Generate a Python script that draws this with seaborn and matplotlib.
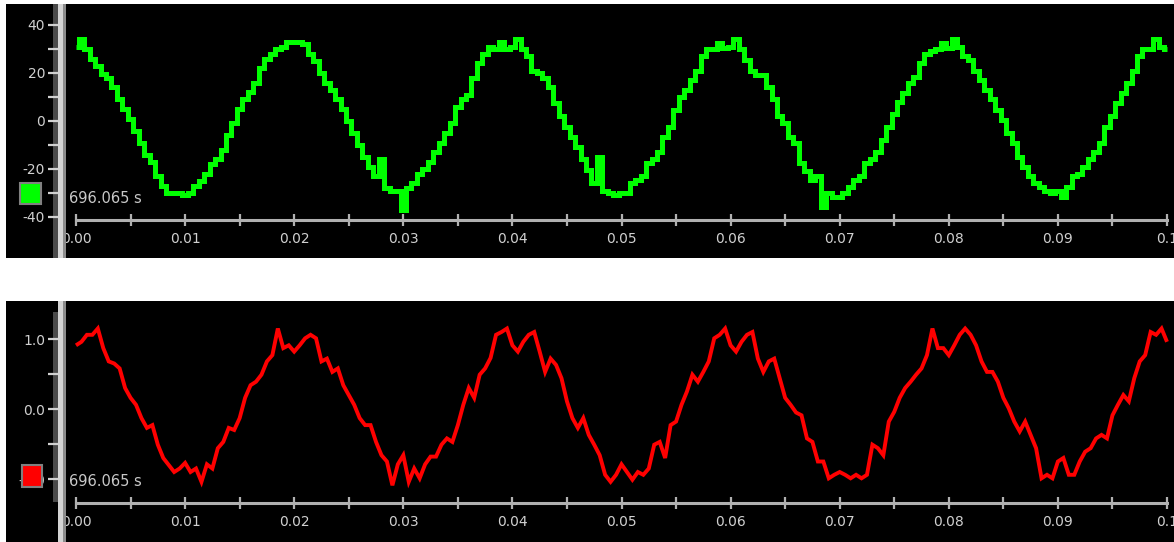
import numpy as np
import pandas as pd
import matplotlib
matplotlib.use("Agg")
import matplotlib.pyplot as plt
from matplotlib.patches import Rectangle
from matplotlib.ticker import MultipleLocator, FixedLocator
import seaborn as sns

# ---------------------------------------------------------------- data
SAMPLE_PERIOD = 0.0005          # seconds between samples
TIMESTAMP = "696.065 s"

voltage = [
    31, 34, 30, 26, 23, 19.5, 18, 14, 9, 5,
    1, -4, -9, -14, -17, -23, -27, -30, -30, -30,
    -31, -30, -27, -25, -22, -18, -16, -12, -6, -1,
    5, 9, 12, 16, 22, 26, 28, 30, 31, 33,
    33, 33, 32, 28, 25, 20, 16, 13, 9, 5,
    0, -5, -10, -15, -19, -23, -16, -28, -29, -29,
    -37, -28, -26, -22, -20, -17, -13, -9, -5, -1,
    6, 9, 11, 18, 24, 28, 31, 30, 33, 30,
    31, 34, 30, 27, 21, 20, 18, 14, 7.5, 2,
    -2.5, -6.5, -11, -16, -20.5, -26, -15, -29, -30, -31,
    -30, -30, -26, -24.6, -23, -17.5, -16, -13, -6.5, -2.5,
    4.6, 10, 13, 17, 21, 27, 30, 30, 32.5, 30.5,
    31, 34, 30, 25.4, 21, 19, 19, 14, 9, 2,
    -1, -6.5, -9, -17.5, -21, -24.6, -23, -36, -30, -31.5,
    -31.5, -30, -27.5, -24.6, -23, -17.5, -16, -13, -8, -2.5,
    3, 8, 11.5, 16, 18.5, 24, 28, 29, 30, 32.5,
    30.5, 34, 31, 27, 25.4, 21, 17, 13, 9, 4.6,
    0.4, -5, -9, -15, -19, -23, -26, -27.5, -29, -30,
    -29, -31.5, -27.5, -23, -22, -19, -16, -13, -9, -2.5,
    2, 7.5, 11.5, 16, 21, 27, 30, 30, 34, 31, 30,
]

current = [
    0.91, 0.96, 1.06, 1.06, 1.15, 0.87, 0.68, 0.65, 0.58, 0.30,
    0.16, 0.06, -0.13, -0.27, -0.23, -0.51, -0.70, -0.80, -0.90, -0.85,
    -0.77, -0.90, -0.85, -1.04, -0.79, -0.85, -0.56, -0.47, -0.27, -0.30,
    -0.13, 0.16, 0.34, 0.39, 0.49, 0.68, 0.77, 1.15, 0.87, 0.91,
    0.82, 0.91, 1.01, 1.06, 1.01, 0.68, 0.72, 0.53, 0.58, 0.34,
    0.20, 0.06, -0.13, -0.23, -0.23, -0.47, -0.66, -0.75, -1.09, -0.79,
    -0.66, -1.04, -0.85, -0.99, -0.79, -0.68, -0.68, -0.51, -0.42, -0.47,
    -0.23, 0.06, 0.30, 0.16, 0.49, 0.58, 0.73, 1.06, 1.10, 1.15,
    0.91, 0.82, 0.96, 1.06, 1.10, 0.82, 0.53, 0.72, 0.63, 0.44,
    0.11, -0.13, -0.27, -0.13, -0.37, -0.51, -0.66, -0.94, -1.04, -0.94,
    -0.79, -0.90, -1.01, -0.90, -0.94, -0.85, -0.51, -0.47, -0.70, -0.23,
    -0.18, 0.06, 0.25, 0.49, 0.39, 0.53, 0.68, 1.01, 1.06, 1.15,
    0.91, 0.82, 0.96, 1.06, 1.10, 0.72, 0.53, 0.68, 0.72, 0.44,
    0.16, 0.06, -0.05, -0.09, -0.42, -0.47, -0.75, -0.75, -0.99, -0.94,
    -0.90, -0.94, -0.99, -0.94, -0.99, -0.94, -0.51, -0.56, -0.66, -0.18,
    -0.04, 0.16, 0.30, 0.39, 0.49, 0.58, 0.77, 1.15, 0.87, 0.87,
    0.77, 0.91, 1.06, 1.15, 1.06, 0.91, 0.68, 0.53, 0.53, 0.39,
    0.16, 0.01, -0.18, -0.32, -0.18, -0.37, -0.56, -0.99, -0.94, -0.99,
    -0.75, -0.70, -0.94, -0.94, -0.75, -0.61, -0.56, -0.42, -0.37, -0.42,
    -0.09, 0.06, 0.20, 0.11, 0.44, 0.68, 0.77, 1.10, 1.06, 1.15, 0.96,
]

x_ticks = [0.00, 0.01, 0.02, 0.03, 0.04, 0.05, 0.06, 0.07, 0.08, 0.09, 0.10]
x_tick_labels = ["0.00", "0.01", "0.02", "0.03", "0.04", "0.05",
                 "0.06", "0.07", "0.08", "0.09", "0.1"]
volt_ticks = [40, 20, 0, -20, -40]
volt_tick_labels = ["40", "20", "0", "-20", "-40"]
volt_minor = [30, 10, -10, -30]
curr_ticks = [1.0, 0.0, -1.0]
curr_tick_labels = ["1.0", "0.0", "-1.0"]
curr_minor = [0.5, -0.5]

t = np.arange(len(voltage)) * SAMPLE_PERIOD
df = pd.DataFrame({"t": t, "voltage": voltage, "current": current})

# ---------------------------------------------------------------- figure
W, H = 1174, 542
sns.set_style("dark")
plt.rcParams["font.family"] = ["DejaVu Sans"]
fig = plt.figure(figsize=(W / 100, H / 100), dpi=100, facecolor="white")


def frect(x0, y0, x1, y1, **kw):
    """Rectangle given in figure pixels (origin top-left)."""
    r = Rectangle((x0 / W, 1 - y1 / H), (x1 - x0) / W, (y1 - y0) / H,
                  transform=fig.transFigure, **kw)
    fig.add_artist(r)
    return r


def panel(top, bottom, ylim, axis_y, ticks, labels, minor, series, color,
          lw, drawstyle, strip, swatch, stamp_y):
    # black scope screen with left scale strip and separator bar
    frect(6, top, W, bottom, facecolor="black", edgecolor="none", zorder=-3)
    frect(53, strip[0], 58, strip[1], facecolor="#4a4a4a",
          edgecolor="none", zorder=-2)
    frect(58, top, 63, bottom, facecolor="#d4d4d4", edgecolor="none", zorder=3)
    frect(63, top, 66, bottom, facecolor="#8c8c8c", edgecolor="none", zorder=3)

    ax = fig.add_axes([66 / W, 1 - bottom / H, (W - 66) / W, (bottom - top) / H])
    ax.set_facecolor("black")
    sns.lineplot(data=df, x="t", y=series, ax=ax, color=color, lw=lw,
                 drawstyle=drawstyle, legend=False,
                 solid_joinstyle="miter", solid_capstyle="butt")
    ax.set_xlim(-10 / 10910, (W - 76) / 10910)
    ax.set_ylim(*ylim)
    ax.grid(False)
    ax.set_xlabel("")
    ax.set_ylabel("")
    for side in ("top", "right", "left"):
        ax.spines[side].set_visible(False)
    sp = ax.spines["bottom"]
    sp.set_position(("data", axis_y))
    sp.set_bounds(0, 0.1)
    sp.set_color("#b0b0b0")
    sp.set_linewidth(2.2)

    ax.set_xticks(x_ticks, x_tick_labels)
    ax.xaxis.set_minor_locator(MultipleLocator(0.005))
    ax.tick_params(axis="x", which="both", bottom=True, direction="inout",
                   length=8, width=1.6, color="#b0b0b0", labelcolor="#d0d0d0",
                   labelsize=10, pad=5)
    ax.set_yticks(ticks, labels)
    ax.yaxis.set_minor_locator(FixedLocator(minor))
    ax.tick_params(axis="y", which="both", left=True, direction="out",
                   length=13, width=1.6, color="#d0d0d0", labelcolor="#d0d0d0",
                   labelsize=10, pad=2)

    ax.text(0.003, stamp_y, TIMESTAMP, transform=ax.transAxes,
            color="#c8c8c8", fontsize=10.5, va="center", ha="left")
    frect(*swatch, facecolor=color, edgecolor="#808080", lw=1.5, zorder=4)
    return ax


# voltage trace (upper screen)
panel(4, 258, (-57.1, 48.75), -41.25, volt_ticks, volt_tick_labels, volt_minor,
      "voltage", "#00ff00", 3.6, "steps-mid", (4, 258),
      (20, 183, 41, 204), 0.236)

# current trace (lower screen)
panel(301, 542, (-1.9, 1.543), -1.34, curr_ticks, curr_tick_labels, curr_minor,
      "current", "#ff0000", 2.8, "default", (312, 502),
      (22, 465, 42, 487), 0.249)

fig.savefig("out.png", dpi=100, facecolor="white")
